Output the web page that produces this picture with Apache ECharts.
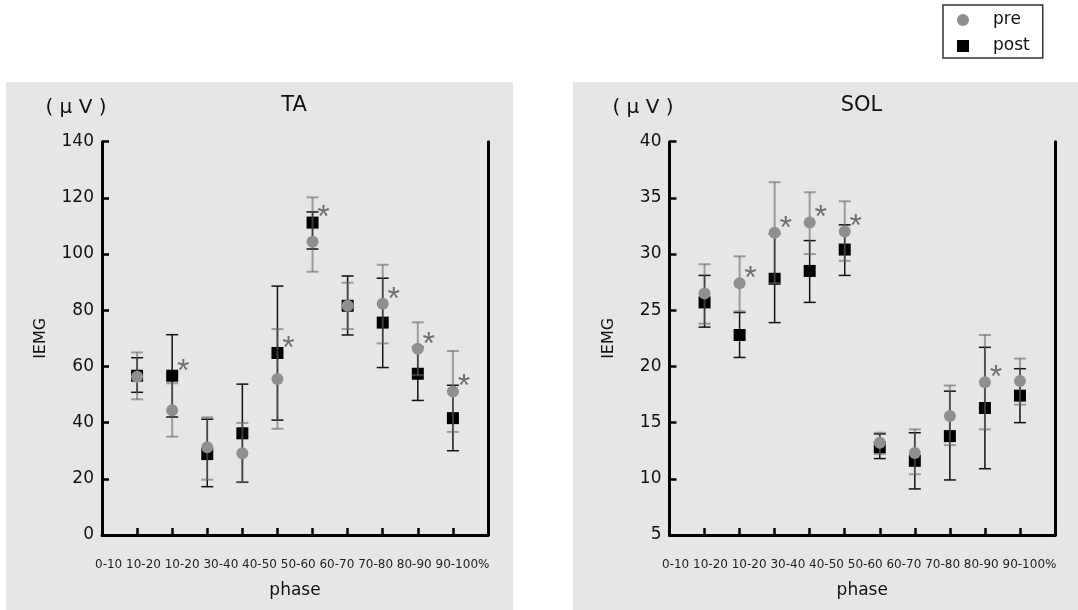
<!DOCTYPE html>
<html>
<head>
<meta charset="utf-8">
<script src="https://cdn.jsdelivr.net/npm/echarts@6/dist/echarts.min.js"></script>
<style>
html,body{margin:0;padding:0;background:#fff;}
#c{width:1078px;height:610px;}
</style>
</head>
<body>
<div id="c"></div>
<script>
// ---------- data ----------
const categories = ['0-10','10-20','10-20','30-40','40-50','50-60','60-70','70-80','80-90','90-100%'];

// TA (µV)
const taPreMean     = [56.3, 44.4, 31.2, 29.1, 55.5, 104.4, 81.6, 82.3, 66.3, 51.1];
const taPreTop      = [65.0, 54.0, 41.9, 39.9, 73.3, 120.2, 89.8, 96.2, 75.7, 65.5];
const taPreBottom   = [48.3, 35.0, 19.7, 18.8, 37.8, 93.7, 73.3, 68.2, 56.9, 36.7];
const taPostMean    = [56.7, 56.7, 28.8, 36.2, 64.8, 111.2, 81.6, 75.6, 57.4, 41.6];
const taPostTop     = [63.1, 71.3, 41.2, 53.7, 88.6, 115.0, 92.2, 91.4, 66.9, 53.3];
const taPostBottom  = [50.8, 42.0, 17.2, 18.8, 40.9, 101.8, 71.2, 59.6, 47.9, 30.0];
const taSig         = [0, 1, 0, 0, 1, 1, 0, 1, 1, 1];

// SOL (µV)
const solPreMean    = [26.5, 27.4, 31.9, 32.8, 32.0, 13.2, 12.3, 15.6, 18.6, 18.7];
const solPreTop     = [29.1, 29.8, 36.4, 35.5, 34.7, 14.1, 14.4, 18.3, 22.8, 20.7];
const solPreBottom  = [23.8, 24.9, 27.4, 30.0, 29.4, 12.2, 10.4, 13.0, 14.4, 16.6];
const solPostMean   = [25.7, 22.8, 27.8, 28.5, 30.4, 12.8, 11.6, 13.8, 16.3, 17.4];
const solPostTop    = [28.1, 24.8, 31.8, 31.2, 32.6, 14.0, 14.1, 17.8, 21.7, 19.8];
const solPostBottom = [23.5, 20.8, 23.9, 25.7, 28.1, 11.8, 9.1, 9.9, 10.9, 15.0];
const solSig        = [0, 1, 1, 1, 1, 0, 0, 0, 1, 0];

const panelTitles = ['TA', 'SOL'];
const unitLabel = '( μ V )';
const yName = 'IEMG';
const xName = 'phase';

// ---------- styling ----------
const FONT = 'DejaVu Sans';
const TXT = '#111';
const PRE_COLOR = '#8f8f8f';
const PRE_BAR = 'rgba(100,100,100,0.58)';
const POST_COLOR = '#000';
const POST_BAR = '#111';

const panels = [
  {left: 102, width: 386, ymin: 0, ymax: 140, yint: 20, bgX: 6, bgW: 507,
   pre: [taPreMean, taPreTop, taPreBottom], post: [taPostMean, taPostTop, taPostBottom], sig: taSig},
  {left: 669.5, width: 385.5, ymin: 5, ymax: 40, yint: 5, bgX: 573, bgW: 505,
   pre: [solPreMean, solPreTop, solPreBottom], post: [solPostMean, solPostTop, solPostBottom], sig: solSig}
];
const GRID_TOP = 141.7, GRID_H = 393.3;

function barRender(color, lw, capHalf) {
  return function (params, api) {
    const x = api.value(0), lo = api.value(1), hi = api.value(2);
    const a = api.coord([x, hi]), b = api.coord([x, lo]);
    const st = {stroke: color, lineWidth: lw};
    return {type: 'group', children: [
      {type: 'line', shape: {x1: a[0], y1: a[1], x2: b[0], y2: b[1]}, style: st},
      {type: 'line', shape: {x1: a[0] - capHalf, y1: a[1], x2: a[0] + capHalf, y2: a[1]}, style: st},
      {type: 'line', shape: {x1: b[0] - capHalf, y1: b[1], x2: b[0] + capHalf, y2: b[1]}, style: st}
    ]};
  };
}
function starRender(params, api) {
  const p = api.coord([api.value(0), api.value(1)]);
  return {type: 'text', x: p[0] + 11, y: p[1] - 4,
    style: {text: '*', fill: '#6e6e6e', font: '32px "Liberation Sans"', align: 'center', verticalAlign: 'middle'}};
}

const grids = [], xAxes = [], yAxes = [], series = [], graphics = [];
panels.forEach((pn, k) => {
  grids.push({left: pn.left, top: GRID_TOP, width: pn.width, height: GRID_H});
  xAxes.push({
    type: 'value', gridIndex: k, min: 0, max: categories.length + 1, interval: 1,
    axisLine: {show: true, lineStyle: {color: '#000', width: 3}},
    axisTick: {show: true, inside: true, length: 7, lineStyle: {color: '#000', width: 2.5}},
    axisLabel: {show: false}, splitLine: {show: false},
    name: xName, nameLocation: 'middle', nameGap: 47,
    nameTextStyle: {fontFamily: FONT, fontSize: 17, color: TXT}
  });
  yAxes.push({
    type: 'value', gridIndex: k, min: pn.ymin, max: pn.ymax, interval: pn.yint,
    axisLine: {show: true, lineStyle: {color: '#000', width: 3}},
    axisTick: {show: true, inside: true, length: 7, lineStyle: {color: '#000', width: 2.5}},
    axisLabel: {fontFamily: FONT, fontSize: 17, color: TXT, margin: 8},
    splitLine: {show: false},
    name: yName, nameLocation: 'middle', nameGap: 53,
    nameTextStyle: {fontFamily: FONT, fontSize: 16, color: TXT}
  });
  yAxes.push({
    type: 'value', gridIndex: k, min: pn.ymin, max: pn.ymax, position: 'right',
    axisLine: {show: true, lineStyle: {color: '#000', width: 3}},
    axisTick: {show: false}, axisLabel: {show: false}, splitLine: {show: false}
  });
  const yi = k * 2;
  const postBars = pn.post[0].map((v, i) => [i + 1, pn.post[2][i], pn.post[1][i]]);
  const preBars = pn.pre[0].map((v, i) => [i + 1, pn.pre[2][i], pn.pre[1][i]]);
  series.push({type: 'custom', name: 'postErr', xAxisIndex: k, yAxisIndex: yi, z: 2, silent: true,
    renderItem: barRender(POST_BAR, 1.5, 6), data: postBars});
  series.push({type: 'scatter', name: 'post', xAxisIndex: k, yAxisIndex: yi, z: 3,
    symbol: 'rect', symbolSize: 12, itemStyle: {color: POST_COLOR, opacity: 1},
    data: pn.post[0].map((v, i) => [i + 1, v])});
  series.push({type: 'custom', name: 'preErr', xAxisIndex: k, yAxisIndex: yi, z: 4, silent: true,
    renderItem: barRender(PRE_BAR, 2, 6), data: preBars});
  series.push({type: 'scatter', name: 'pre', xAxisIndex: k, yAxisIndex: yi, z: 5,
    symbol: 'circle', symbolSize: 12, itemStyle: {color: PRE_COLOR, opacity: 1},
    data: pn.pre[0].map((v, i) => [i + 1, v])});
  const stars = [];
  pn.sig.forEach((s, i) => { if (s) stars.push([i + 1, Math.max(pn.pre[0][i], pn.post[0][i])]); });
  series.push({type: 'custom', name: 'sig', xAxisIndex: k, yAxisIndex: yi, z: 6, silent: true,
    renderItem: starRender, data: stars});

  const dx = pn.bgX - 6;
  graphics.push({type: 'rect', z: -10, shape: {x: pn.bgX, y: 82, width: pn.bgW, height: 528}, style: {fill: '#e6e6e6'}});
  graphics.push({type: 'text', z: 10, x: 294 + dx + (k ? 0.5 : 0), y: 105.5,
    style: {text: panelTitles[k], font: '21px "' + FONT + '"', fill: TXT, align: 'center', verticalAlign: 'middle'}});
  graphics.push({type: 'text', z: 10, x: 76 + dx, y: 107.5,
    style: {text: unitLabel, font: '20px "' + FONT + '"', fill: TXT, align: 'center', verticalAlign: 'middle'}});
  graphics.push({type: 'text', z: 10, x: 95 + dx, y: 564.5,
    style: {text: categories.join(' '), font: '12px "' + FONT + '"', fill: '#222', align: 'left', verticalAlign: 'middle'}});
});

const chart = echarts.init(document.getElementById('c'), null, {renderer: 'canvas'});
chart.setOption({
  backgroundColor: '#fff',
  animation: false,
  grid: grids, xAxis: xAxes, yAxis: yAxes, series: series,
  graphic: graphics,
  legend: {
    data: ['pre', 'post'], orient: 'vertical', left: 943, top: 5,
    selectedMode: false,
    backgroundColor: '#fff', borderColor: '#333', borderWidth: 1.5,
    padding: [6.5, 13, 3.5, 14], itemGap: 9, itemWidth: 12, itemHeight: 12,
    textStyle: {fontFamily: FONT, fontSize: 17, color: TXT, padding: [0, 0, 0, 19]}
  }
});
</script>
</body>
</html>
